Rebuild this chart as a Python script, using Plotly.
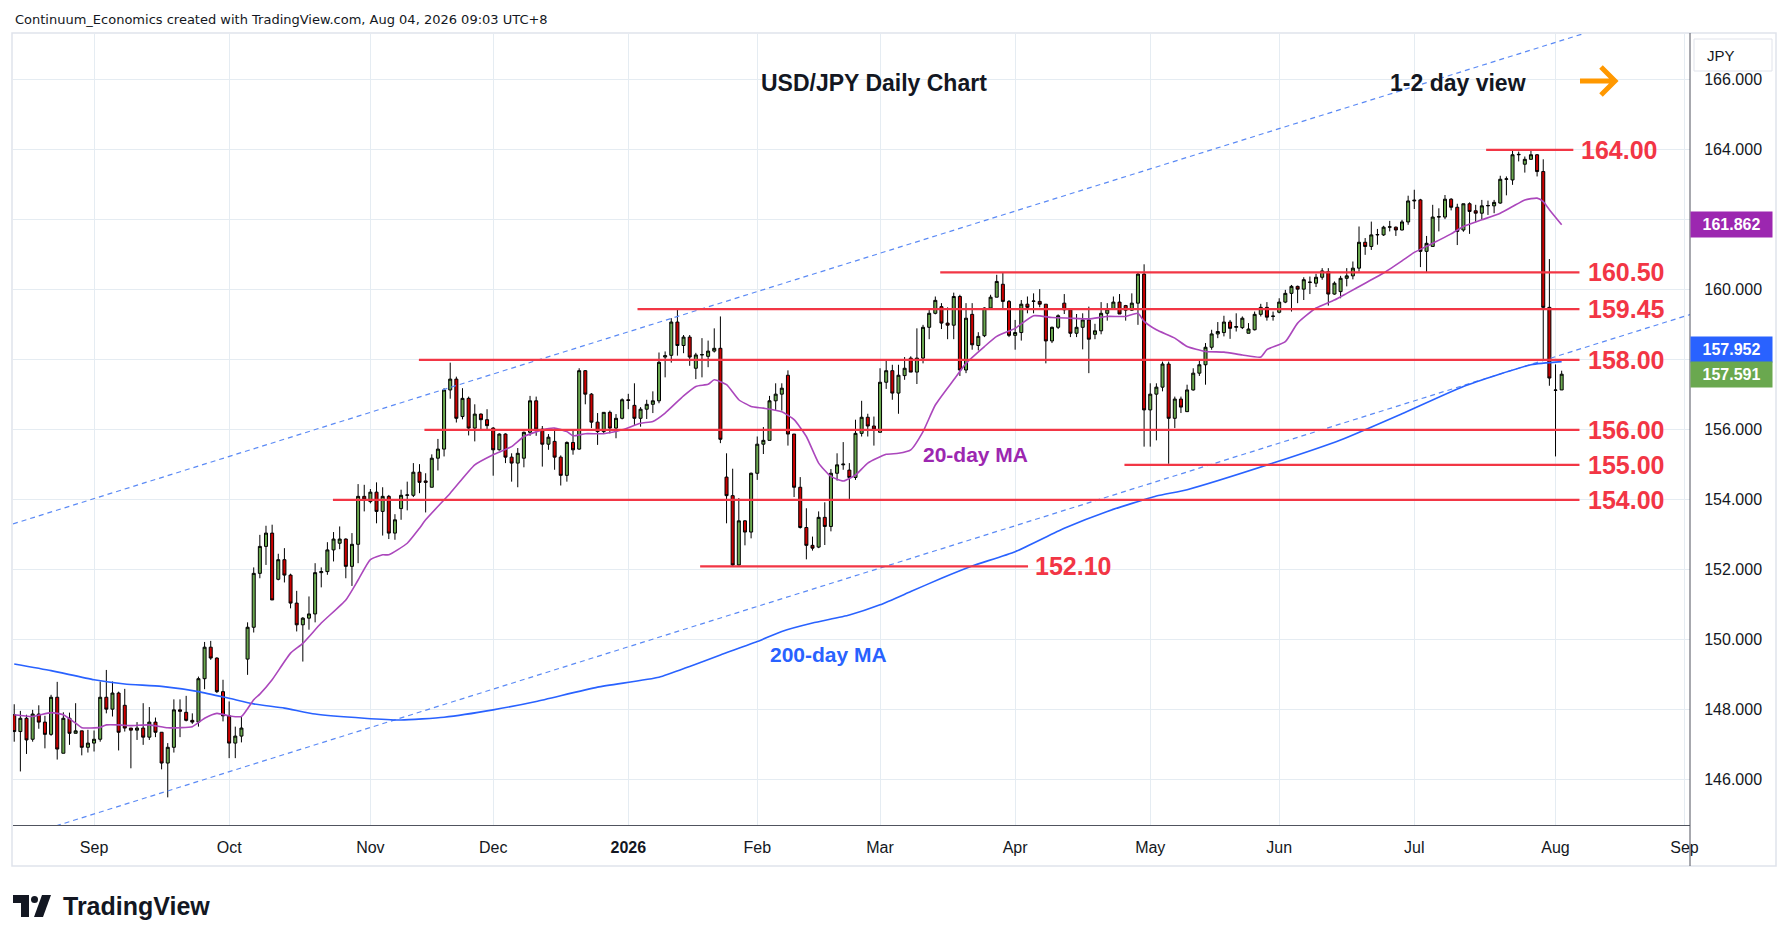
"""
USD/JPY daily candlestick chart (TradingView style) with 20/200-day MAs,
support / resistance levels and the rising channel.

Run:
    python3 plot.py
"""
import pandas as pd
import plotly.graph_objects as go

# ---------------------------------------------------------------------------
# data
# ---------------------------------------------------------------------------
# trading calendar: weekdays, no bars on Christmas / New Year's Day
dates = pd.bdate_range("2025-08-13", "2026-09-01")
dates = dates[~dates.isin(pd.to_datetime(["2025-12-25", "2026-01-01"]))]

opens = [
    147.86, 147.38, 147.76, 147.16, 147.88, 147.65, 147.30, 148.36, 146.76, 147.76,
    147.33, 147.40, 146.93, 147.05, 147.16, 148.36, 148.02, 148.48, 148.13, 147.48,
    147.42, 147.48, 147.22, 147.65, 147.36, 146.48, 146.93, 148.00, 147.93, 147.70,
    147.65, 148.89, 149.79, 149.48, 148.52, 147.83, 147.05, 147.25, 149.45, 150.36,
    151.90, 152.67, 153.05, 151.73, 152.29, 151.85, 151.05, 150.43, 150.62, 150.74,
    151.92, 151.95, 152.57, 152.76, 152.88, 152.10, 152.73, 154.10, 153.95, 154.22,
    153.67, 154.10, 153.05, 153.75, 154.13, 154.13, 154.79, 154.54, 154.36, 155.19,
    155.45, 157.14, 157.45, 156.38, 156.90, 156.05, 156.45, 156.29, 156.05, 155.43,
    155.88, 155.22, 155.05, 155.19, 155.93, 156.83, 156.02, 155.59, 155.67, 155.22,
    154.70, 155.64, 155.45, 157.69, 157.02, 156.22, 155.95, 156.50, 156.05, 156.33,
    156.86, 156.70, 156.33, 156.59, 156.73, 156.83, 158.08, 158.13, 159.08, 158.41,
    158.65, 157.76, 158.14, 158.10, 158.25, 158.33, 154.65, 154.12, 152.14, 153.40,
    153.08, 154.76, 155.59, 155.70, 156.83, 157.02, 157.56, 155.88, 154.36, 153.21,
    152.70, 152.65, 153.50, 153.24, 154.76, 155.00, 154.85, 154.64, 155.90, 156.36,
    156.11, 155.93, 157.36, 157.69, 157.05, 157.55, 158.05, 157.65, 158.05, 158.93,
    159.33, 159.52, 159.05, 158.99, 159.81, 157.71, 159.30, 158.41, 158.69, 159.48,
    159.79, 160.16, 159.67, 158.70, 158.78, 159.59, 159.67, 159.67, 159.59, 158.54,
    158.93, 159.62, 159.43, 158.76, 158.93, 159.14, 158.73, 158.83, 159.33, 159.45,
    159.65, 159.55, 159.42, 159.62, 160.45, 156.57, 157.02, 157.22, 157.88, 156.33,
    156.88, 156.52, 157.14, 157.62, 157.86, 158.36, 158.74, 158.78, 159.08, 158.93,
    158.92, 158.76, 158.86, 159.30, 159.50, 159.24, 159.36, 159.65, 159.90, 160.10,
    160.02, 160.21, 160.19, 160.36, 160.52, 159.88, 159.95, 160.33, 160.40, 160.62,
    161.36, 161.24, 161.57, 161.57, 161.79, 161.79, 161.71, 161.94, 162.54, 162.57,
    161.10, 161.24, 162.08, 162.08, 162.59, 162.36, 161.71, 162.46, 162.26, 162.19,
    162.40, 162.40, 162.48, 163.16, 163.14, 163.86, 163.59, 163.73, 163.86, 163.38,
    159.50, 157.14, 157.14,
]
highs = [
    148.16, 147.97, 147.86, 148.00, 148.13, 147.83, 148.43, 148.80, 147.93, 147.92,
    148.19, 147.40, 147.43, 147.41, 148.81, 149.14, 148.81, 148.52, 148.60, 147.48,
    147.65, 148.19, 148.08, 147.78, 147.36, 147.05, 148.30, 148.30, 148.40, 147.90,
    148.95, 149.94, 149.97, 149.50, 148.86, 148.24, 147.52, 147.81, 150.50, 152.07,
    153.00, 153.26, 153.29, 152.46, 152.62, 151.89, 151.40, 150.65, 151.24, 152.19,
    152.07, 152.79, 153.08, 153.24, 152.90, 153.05, 154.45, 154.43, 154.31, 154.50,
    154.36, 154.14, 153.59, 154.29, 154.52, 155.05, 155.02, 154.76, 155.30, 155.74,
    157.19, 157.92, 157.52, 157.19, 156.95, 156.73, 156.47, 156.59, 156.08, 155.90,
    155.90, 155.33, 155.48, 155.95, 156.97, 156.95, 156.11, 155.88, 156.00, 155.27,
    155.67, 156.00, 157.76, 157.71, 157.05, 156.48, 156.50, 156.55, 156.45, 156.90,
    157.03, 157.33, 156.65, 156.86, 157.10, 158.21, 158.24, 159.19, 159.45, 158.71,
    158.71, 158.20, 158.62, 158.55, 158.90, 159.24, 155.33, 154.89, 154.05, 153.42,
    154.78, 155.81, 156.08, 156.97, 157.33, 157.33, 157.70, 155.88, 154.65, 153.76,
    152.95, 153.67, 153.93, 154.88, 155.33, 155.65, 155.05, 156.29, 156.83, 156.46,
    156.38, 157.76, 157.98, 157.86, 157.86, 158.08, 158.10, 158.90, 159.00, 159.45,
    159.81, 159.62, 159.50, 159.92, 159.86, 159.62, 159.62, 158.79, 159.50, 159.86,
    160.43, 160.50, 159.71, 159.14, 159.71, 159.81, 159.90, 160.02, 159.59, 158.95,
    159.30, 159.88, 159.48, 159.31, 159.33, 159.52, 159.03, 159.65, 159.62, 159.81,
    159.88, 159.57, 159.90, 160.50, 160.73, 157.33, 157.33, 157.95, 157.95, 156.95,
    156.95, 157.29, 157.76, 158.00, 158.48, 158.86, 159.08, 159.26, 159.14, 159.33,
    159.24, 159.05, 159.38, 159.60, 159.65, 159.38, 159.76, 160.00, 160.14, 160.12,
    160.36, 160.38, 160.46, 160.62, 160.62, 160.24, 160.40, 160.62, 160.81, 161.81,
    161.48, 161.95, 161.74, 161.83, 161.97, 161.81, 162.00, 162.69, 162.86, 162.60,
    161.54, 162.43, 162.33, 162.71, 162.62, 162.46, 162.46, 162.50, 162.43, 162.57,
    162.55, 162.57, 163.26, 163.24, 164.00, 163.95, 163.81, 163.98, 163.88, 163.73,
    160.88, 157.87, 157.69,
]
lows = [
    147.09, 146.24, 146.74, 147.09, 147.46, 146.90, 147.26, 146.58, 146.76, 147.00,
    147.33, 146.70, 146.78, 146.81, 147.09, 147.90, 147.81, 146.84, 147.38, 146.33,
    147.14, 147.00, 147.14, 147.22, 146.30, 145.50, 146.78, 147.22, 147.67, 147.60,
    147.52, 148.59, 149.43, 148.48, 147.67, 146.62, 146.62, 147.07, 149.00, 150.21,
    151.76, 152.14, 151.14, 151.70, 151.64, 150.90, 150.24, 149.38, 150.29, 150.50,
    151.50, 151.86, 152.24, 152.59, 151.76, 151.54, 152.19, 153.67, 153.90, 153.33,
    152.98, 152.88, 152.86, 153.43, 153.70, 154.08, 154.19, 153.64, 154.36, 154.84,
    155.24, 156.89, 156.21, 156.30, 155.84, 155.67, 156.02, 156.02, 154.69, 155.41,
    155.05, 154.52, 154.36, 154.93, 155.83, 155.83, 154.95, 155.43, 154.86, 154.41,
    154.52, 155.29, 155.43, 156.73, 156.05, 155.57, 155.90, 155.90, 155.76, 156.30,
    156.59, 156.14, 156.09, 156.31, 156.48, 156.76, 157.50, 157.92, 158.12, 158.19,
    157.83, 157.45, 157.50, 157.79, 158.21, 155.62, 153.33, 152.11, 152.12, 152.70,
    152.90, 154.57, 155.31, 155.70, 156.57, 156.55, 155.55, 154.08, 153.18, 152.30,
    152.55, 152.62, 152.71, 153.10, 154.55, 154.86, 154.02, 154.57, 155.81, 155.81,
    155.55, 155.93, 157.17, 156.86, 156.46, 157.43, 157.65, 157.31, 157.90, 158.59,
    159.30, 158.88, 158.59, 158.59, 157.54, 157.62, 158.29, 158.27, 158.65, 159.45,
    159.79, 159.45, 158.65, 158.29, 158.55, 159.33, 159.33, 159.50, 157.90, 158.48,
    158.88, 159.31, 158.65, 158.65, 158.30, 157.62, 158.59, 158.73, 159.12, 159.43,
    159.31, 159.12, 159.40, 159.00, 155.52, 155.52, 155.70, 157.10, 155.03, 156.05,
    156.48, 156.52, 157.12, 157.54, 157.29, 158.29, 158.62, 158.67, 158.60, 158.81,
    158.88, 158.76, 158.84, 159.24, 159.12, 159.12, 159.33, 159.62, 159.38, 159.62,
    159.71, 159.88, 160.08, 160.29, 159.55, 159.86, 159.76, 160.10, 160.30, 160.52,
    161.00, 161.14, 161.29, 161.54, 161.67, 161.54, 161.70, 161.86, 162.31, 160.65,
    160.49, 161.24, 161.67, 162.02, 162.27, 161.28, 161.66, 161.60, 161.93, 162.00,
    162.14, 162.19, 162.46, 162.70, 163.00, 163.67, 163.35, 163.72, 163.24, 158.00,
    157.26, 155.24, 157.14,
]
closes = [
    147.38, 147.76, 147.14, 147.88, 147.65, 147.30, 148.36, 146.88, 147.76, 147.33,
    147.40, 146.93, 147.05, 147.16, 148.36, 148.02, 148.48, 147.36, 147.48, 147.42,
    147.48, 147.22, 147.65, 147.36, 146.48, 146.93, 148.00, 147.96, 147.70, 147.65,
    148.89, 149.79, 149.48, 148.52, 147.83, 147.05, 147.25, 147.48, 150.36, 151.90,
    152.67, 153.05, 151.14, 152.29, 151.85, 151.05, 150.43, 150.62, 150.74, 151.92,
    151.95, 152.57, 152.88, 152.88, 152.10, 152.73, 154.10, 154.02, 154.22, 153.67,
    154.10, 153.05, 153.43, 154.13, 154.14, 154.79, 154.50, 154.50, 155.19, 155.45,
    157.14, 157.45, 156.33, 156.90, 156.05, 156.45, 156.29, 156.12, 155.43, 155.88,
    155.22, 155.05, 155.33, 155.93, 156.83, 156.02, 155.59, 155.79, 155.22, 154.70,
    155.64, 155.43, 157.69, 157.02, 156.22, 155.95, 156.50, 156.05, 156.33, 156.86,
    156.84, 156.33, 156.59, 156.73, 156.83, 157.93, 158.12, 159.08, 158.41, 158.65,
    158.08, 158.14, 158.15, 158.25, 158.33, 155.73, 154.12, 152.14, 153.40, 153.08,
    154.76, 155.59, 155.70, 156.83, 157.02, 157.19, 155.88, 154.36, 153.21, 152.70,
    152.62, 153.50, 153.24, 154.76, 155.00, 155.02, 154.64, 155.90, 156.36, 156.11,
    156.02, 157.36, 157.69, 157.05, 157.56, 157.76, 157.65, 158.05, 158.93, 159.33,
    159.70, 159.05, 158.99, 159.81, 157.71, 159.19, 158.43, 158.67, 159.48, 159.79,
    160.24, 159.67, 158.70, 158.78, 159.59, 159.50, 159.68, 159.59, 158.54, 158.93,
    159.26, 159.43, 158.76, 158.93, 159.14, 158.59, 158.83, 159.33, 159.45, 159.65,
    159.31, 159.42, 159.62, 160.45, 156.57, 157.02, 157.22, 157.88, 156.33, 156.88,
    156.65, 157.14, 157.62, 157.86, 158.36, 158.74, 158.81, 159.08, 158.90, 158.95,
    159.19, 158.88, 159.30, 159.50, 159.22, 159.25, 159.65, 159.90, 160.10, 160.02,
    160.29, 160.22, 160.36, 160.54, 159.88, 160.19, 160.33, 160.40, 160.62, 161.36,
    161.24, 161.57, 161.58, 161.79, 161.80, 161.71, 161.94, 162.54, 162.56, 161.10,
    161.33, 162.08, 162.09, 162.59, 162.36, 161.67, 162.46, 162.24, 162.19, 162.40,
    162.41, 162.50, 163.16, 163.17, 163.86, 163.87, 163.73, 163.86, 163.38, 159.50,
    157.48, 157.13, 157.59,
]

# moving averages (bar number -> value)
ma20_bar = [0, 3, 6, 8, 10, 11, 14, 15, 17, 19, 22, 25, 27, 29, 31, 33, 35, 37, 39, 40,
            42, 45, 47, 50, 54, 56, 58, 60, 61, 64, 66, 67, 71, 75, 78, 81, 83, 86, 88, 90,
            91, 93, 96, 99, 102, 104, 106, 109, 111, 113, 114, 116, 118, 120, 122, 125, 127,
            129, 131, 133, 135, 137, 139, 142, 144, 146, 148, 150, 153, 155, 158, 160, 163,
            166, 169, 172, 175, 178, 181, 183, 184, 186, 189, 191, 194, 197, 200, 203, 204,
            207, 209, 212, 215, 217, 220, 223, 226, 228, 231, 234, 236, 239, 242, 244, 246,
            248, 249, 250, 252]
ma20_val = [147.86, 147.81, 147.92, 147.86, 147.62, 147.49, 147.50, 147.57, 147.57, 147.55,
            147.57, 147.49, 147.49, 147.52, 147.76, 147.90, 147.83, 147.81, 148.29, 148.45,
            148.86, 149.62, 149.90, 150.48, 151.14, 151.71, 152.29, 152.43, 152.43, 152.76,
            153.19, 153.43, 154.19, 155.00, 155.29, 155.52, 155.81, 156.00, 156.05, 155.95,
            155.83, 155.89, 155.89, 156.00, 156.19, 156.24, 156.48, 156.97, 157.24, 157.30,
            157.43, 157.29, 156.86, 156.67, 156.62, 156.52, 156.29, 155.81, 155.05, 154.67,
            154.54, 154.71, 155.05, 155.30, 155.33, 155.43, 155.95, 156.71, 157.43, 157.90,
            158.38, 158.67, 158.90, 159.26, 159.21, 159.19, 159.17, 159.24, 159.24, 159.33,
            159.10, 158.86, 158.62, 158.38, 158.24, 158.22, 158.14, 158.08, 158.29, 158.52,
            159.05, 159.48, 159.71, 159.90, 160.19, 160.48, 160.83, 161.07, 161.33, 161.60,
            161.81, 162.00, 162.19, 162.38, 162.57, 162.62, 162.52, 162.29, 161.86]
ma200_bar = [0, 6, 13, 18, 24, 30, 35, 39, 44, 49, 57, 63, 70, 78, 85, 95, 105, 110, 115,
             121, 125, 130, 136, 141, 146, 151, 156, 163, 171, 178, 186, 191, 205, 216, 226,
             236, 247, 252]
ma200_val = [149.31, 149.12, 148.86, 148.74, 148.67, 148.52, 148.33, 148.17, 148.05, 147.88,
             147.76, 147.71, 147.79, 148.00, 148.24, 148.65, 148.93, 149.24, 149.57, 149.95,
             150.24, 150.48, 150.71, 151.00, 151.38, 151.76, 152.11, 152.52, 153.19, 153.67,
             154.11, 154.29, 155.05, 155.71, 156.46, 157.24, 157.86, 157.95]

# horizontal levels: value, first bar, last bar
level_vals = [164.00, 160.50, 159.45, 158.00, 156.00, 155.00, 154.00, 152.10]
level_start = [239.7, 150.8, 101.5, 65.9, 66.8, 180.8, 51.9, 111.7]
level_end = [253.9, 254.9, 254.9, 254.9, 254.9, 254.9, 254.9, 165.1]
level_label_bar = [254.9, 255.9, 255.9, 255.9, 255.9, 255.9, 255.9, 165.9]

# rising channel: two anchor points (bar, price) per line
channel_upper = [(28.6, 154.89), (121.9, 160.00)]
channel_lower = [(15.1, 145.14), (254.8, 158.30)]

month_labels = ["Sep", "Oct", "Nov", "Dec", "<b>2026</b>", "Feb", "Mar", "Apr",
                "May", "Jun", "Jul", "Aug", "Sep"]
price_ticks = [146, 148, 150, 152, 154, 156, 158, 160, 162, 164, 166]
# scale labels that sit under the last-value badges are not shown
hidden_price_labels = [158, 162]

last_ma20, last_ma200, last_close = 161.862, 157.952, 157.591

# ---------------------------------------------------------------------------
# styling / geometry
# ---------------------------------------------------------------------------
W, H = 1789, 941
PL, PR, PT, PB = 13, 1690, 34, 825          # plot area in pixels
X_RANGE = [-0.2, 272.9]
Y_RANGE = [144.71, 167.31]

GREEN = "#6aa84f"
RED_CANDLE = "#cc0000"
LEVEL_RED = "#f23645"
PURPLE = "#9c27b0"
BLUE = "#2962ff"
GRID = "#e5ecf2"
TEXT = "#131722"
FONT = "Liberation Sans"


def px_x(x):
    return (x - PL) / (PR - PL)


def px_y(y):
    return (PB - y) / (PB - PT)


bars = list(range(len(opens)))
month_pos = [i for i in range(1, len(dates)) if dates[i].month != dates[i - 1].month]

fig = go.Figure()

# channel lines (extended across the plot, clipped by the axes)
for (x0, y0), (x1, y1) in (channel_upper, channel_lower):
    slope = (y1 - y0) / (x1 - x0)
    xs = [X_RANGE[0], X_RANGE[1]]
    fig.add_trace(go.Scatter(
        x=xs, y=[y0 + slope * (x - x0) for x in xs], mode="lines",
        line=dict(color="#5b8af5", width=1.2, dash="5px,4px"), hoverinfo="skip",
    ))

fig.add_trace(go.Scatter(x=ma200_bar, y=ma200_val, mode="lines",
                         line=dict(color=BLUE, width=1.6, shape="spline", smoothing=0.5),
                         hoverinfo="skip"))
fig.add_trace(go.Scatter(x=ma20_bar, y=ma20_val, mode="lines",
                         line=dict(color="#ab47bc", width=1.6, shape="spline", smoothing=0.5),
                         hoverinfo="skip"))

fig.add_trace(go.Candlestick(
    x=bars, open=opens, high=highs, low=lows, close=closes,
    increasing=dict(fillcolor=GREEN, line=dict(color="#000000", width=1)),
    decreasing=dict(fillcolor=RED_CANDLE, line=dict(color="#000000", width=1)),
    whiskerwidth=0,
))

for v, s, e in zip(level_vals, level_start, level_end):
    fig.add_trace(go.Scatter(x=[s, e], y=[v, v], mode="lines",
                             line=dict(color=LEVEL_RED, width=2.2), hoverinfo="skip"))

annotations = []
for v, xb in zip(level_vals, level_label_bar):
    annotations.append(dict(x=xb, y=v, xref="x", yref="y", text=f"{v:.2f}",
                            xanchor="left", yanchor="middle", showarrow=False,
                            font=dict(family=FONT, size=25, color=LEVEL_RED, weight="bold")))

annotations += [
    dict(x=147.7, y=155.29, xref="x", yref="y", text="20-day MA", xanchor="left",
         yanchor="middle", showarrow=False,
         font=dict(family=FONT, size=21, color=PURPLE, weight="bold")),
    dict(x=122.8, y=149.57, xref="x", yref="y", text="200-day MA", xanchor="left",
         yanchor="middle", showarrow=False,
         font=dict(family=FONT, size=21, color=BLUE, weight="bold")),
    dict(x=px_x(13), y=px_y(20), xref="paper", yref="paper", xanchor="left",
         yanchor="middle", showarrow=False,
         text="Continuum_Economics created with TradingView.com, Aug 04, 2026 09:03 UTC+8",
         font=dict(family="DejaVu Sans", size=13, color=TEXT)),
    dict(x=px_x(874), y=px_y(83), xref="paper", yref="paper", text="USD/JPY Daily Chart",
         showarrow=False, xanchor="center", yanchor="middle",
         font=dict(family=FONT, size=23, color=TEXT, weight="bold")),
    dict(x=px_x(1458), y=px_y(83), xref="paper", yref="paper", text="1-2 day view",
         showarrow=False, xanchor="center", yanchor="middle",
         font=dict(family=FONT, size=23, color=TEXT, weight="bold")),
    dict(x=px_x(1705), y=px_y(55), xref="paper", yref="paper", text="JPY",
         showarrow=False, xanchor="left", yanchor="middle",
         font=dict(family=FONT, size=15, color=TEXT)),
    dict(x=px_x(61), y=px_y(906), xref="paper", yref="paper", text="<b>TradingView</b>",
         showarrow=False, xanchor="left", yanchor="middle",
         font=dict(family=FONT, size=25, color=TEXT)),
]

# last-value badges on the price scale
for val, ypix, color in ((last_ma20, 224.5, PURPLE), (last_ma200, 349.5, BLUE),
                         (last_close, 374.5, GREEN)):
    annotations.append(dict(
        x=px_x(1731), y=px_y(ypix), xref="paper", yref="paper", text=f"{val:.3f}",
        showarrow=False, xanchor="center", yanchor="middle", bgcolor=color,
        width=77, height=21, borderpad=2,
        font=dict(family=FONT, size=16, color="white", weight="bold")))

shapes = [
    # outer frame
    dict(type="rect", xref="paper", yref="paper", x0=px_x(12), x1=px_x(1776),
         y0=px_y(33), y1=px_y(866), line=dict(color="#e0e3eb", width=1.5), layer="above"),
    # price-scale separator running down through the time scale
    dict(type="line", xref="paper", yref="paper", x0=px_x(1690), x1=px_x(1690),
         y0=px_y(33), y1=px_y(866), line=dict(color="#50535e", width=1), layer="above"),
    # JPY box
    dict(type="rect", xref="paper", yref="paper", x0=px_x(1694), x1=px_x(1772),
         y0=px_y(39), y1=px_y(71), fillcolor="white",
         line=dict(color="#e0e3eb", width=1), layer="above"),
    # orange arrow
    dict(type="path", xref="paper", yref="paper", layer="above",
         path=(f"M{px_x(1580)},{px_y(81)} L{px_x(1614)},{px_y(81)} "
               f"M{px_x(1601)},{px_y(67)} L{px_x(1615)},{px_y(81)} L{px_x(1601)},{px_y(95)}"),
         line=dict(color="#ff9800", width=5)),
    # TradingView logo mark
    dict(type="path", xref="paper", yref="paper", layer="above", fillcolor=TEXT,
         line=dict(width=0),
         path=(f"M{px_x(13)},{px_y(895)} L{px_x(29)},{px_y(895)} L{px_x(29)},{px_y(917)} "
               f"L{px_x(21)},{px_y(917)} L{px_x(21)},{px_y(903)} L{px_x(13)},{px_y(903)} Z")),
    dict(type="circle", xref="paper", yref="paper", layer="above", fillcolor=TEXT,
         line=dict(width=0), x0=px_x(31), x1=px_x(38), y0=px_y(896), y1=px_y(903)),
    dict(type="path", xref="paper", yref="paper", layer="above", fillcolor=TEXT,
         line=dict(width=0),
         path=(f"M{px_x(42)},{px_y(895)} L{px_x(51)},{px_y(895)} L{px_x(43)},{px_y(917)} "
               f"L{px_x(34)},{px_y(917)} Z")),
]

fig.update_layout(
    width=W, height=H,
    margin=dict(l=PL, r=W - PR, t=PT, b=H - PB),
    paper_bgcolor="white", plot_bgcolor="white",
    showlegend=False,
    font=dict(family=FONT, color=TEXT),
    annotations=annotations,
    shapes=shapes,
    xaxis=dict(
        range=X_RANGE, tickmode="array", tickvals=month_pos, ticktext=month_labels,
        showgrid=True, gridcolor=GRID, gridwidth=1, zeroline=False,
        ticks="outside", ticklen=8, tickcolor="rgba(0,0,0,0)",
        tickfont=dict(family=FONT, size=16, color=TEXT),
        showline=True, linecolor="#50535e", linewidth=1,
        rangeslider=dict(visible=False), fixedrange=True,
    ),
    yaxis=dict(
        range=Y_RANGE, side="right", tickmode="array", tickvals=price_ticks,
        ticktext=["" if v in hidden_price_labels else f"{v:.3f}" for v in price_ticks],
        showgrid=True, gridcolor=GRID, gridwidth=1, zeroline=False,
        ticks="outside", ticklen=10, tickcolor="rgba(0,0,0,0)",
        tickfont=dict(family=FONT, size=16, color=TEXT),
        showline=False, fixedrange=True,
    ),
)

fig.write_html("out.html", config={"displayModeBar": False},
               post_script="document.body.style.margin='0';document.body.style.overflow='hidden';")
